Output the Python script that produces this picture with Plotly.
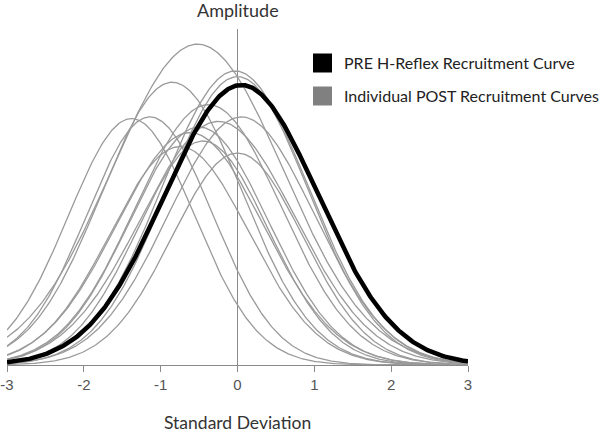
import numpy as np
import plotly.graph_objects as go

# PRE curve parameters (mean in SD units, peak amplitude, width)
pre_mean = 0.05
pre_peak = 1.0
pre_width = 1.0

# Individual POST recruitment curves
post_means = [-0.52, -0.85, -0.03, 0.00, -1.38, -1.14, -0.38, 0.05, -0.50, -0.62, 0.00, -0.45, -0.25, -0.75]
post_peaks = [1.146, 1.01, 1.05, 1.03, 0.88, 0.886, 0.93, 0.886, 0.85, 0.83, 0.757, 0.80, 0.87, 0.78]
post_widths = [1.12, 0.92, 0.95, 0.92, 0.82, 0.82, 0.95, 0.95, 0.9, 0.95, 0.85, 0.85, 1.0, 0.9]

x_ticks = [-3, -2, -1, 0, 1, 2, 3]
x_ticklabels = ["-3", "-2", "-1", "0", "1", "2", "3"]

legend_labels = ["PRE H-Reflex Recruitment Curve", "Individual POST Recruitment Curves"]

xs = np.linspace(-3, 3, 400)


def curve(m, a, s):
    return a * np.exp(-((xs - m) ** 2) / (2 * s ** 2))


fig = go.Figure()
for m, a, s in zip(post_means, post_peaks, post_widths):
    fig.add_trace(go.Scatter(x=xs, y=curve(m, a, s), mode="lines",
                             line=dict(color="#9a9a9a", width=1.3),
                             showlegend=False, hoverinfo="skip"))
fig.add_trace(go.Scatter(x=xs, y=curve(pre_mean, pre_peak, pre_width), mode="lines",
                         line=dict(color="#000000", width=4.5),
                         showlegend=False, hoverinfo="skip"))

fig.update_layout(
    width=601, height=432,
    margin=dict(l=7, r=133, t=29, b=67, autoexpand=False),
    paper_bgcolor="white", plot_bgcolor="white",
    showlegend=False,
    font=dict(family="Lato", color="#333333"),
)
fig.update_xaxes(
    range=[-3, 3], showgrid=False, zeroline=True, zerolinecolor="#8a8a8a", zerolinewidth=1,
    showline=True, linecolor="#8a8a8a", linewidth=1,
    ticks="outside", ticklen=6, tickcolor="#8a8a8a", tickwidth=1,
    tickvals=x_ticks, ticktext=x_ticklabels, automargin=False,
    tickfont=dict(family="Liberation Sans", size=15, color="#555555"),
    fixedrange=True,
)
fig.update_yaxes(range=[0, 1.2], showgrid=False, zeroline=False, showline=False,
                 showticklabels=False, ticks="", fixedrange=True, automargin=False)

# Axis titles
fig.add_annotation(x=0, y=1, xref="x", yref="paper", yshift=19, text="Amplitude",
                   showarrow=False, font=dict(family="Lato", size=18, color="#333333"),
                   xanchor="center", yanchor="middle")
fig.add_annotation(x=0, y=0, xref="x", yref="paper", yshift=-57, text="Standard Deviation",
                   showarrow=False, font=dict(family="Lato", size=17.5, color="#333333"),
                   xanchor="center", yanchor="middle")

# Legend (squares + text)
legend_colors = ["#000000", "#808080"]
legend_y = [63, 96]
for lab, col, yc in zip(legend_labels, legend_colors, legend_y):
    fig.add_shape(type="rect", xref="paper", yref="paper",
                  x0=(313 - 7) / 461, x1=(332 - 7) / 461,
                  y0=(365 - (yc + 9.5)) / 336, y1=(365 - (yc - 9.5)) / 336,
                  fillcolor=col, line=dict(width=0))
    fig.add_annotation(x=(342 - 7) / 461, y=(365 - yc) / 336, xref="paper", yref="paper",
                       text=lab, showarrow=False, xanchor="left", yanchor="middle",
                       font=dict(family="Lato", size=16, color="#222222"))

fig.write_html("out.html", config={"displayModeBar": False},
               post_script="document.body.style.margin='0';")
